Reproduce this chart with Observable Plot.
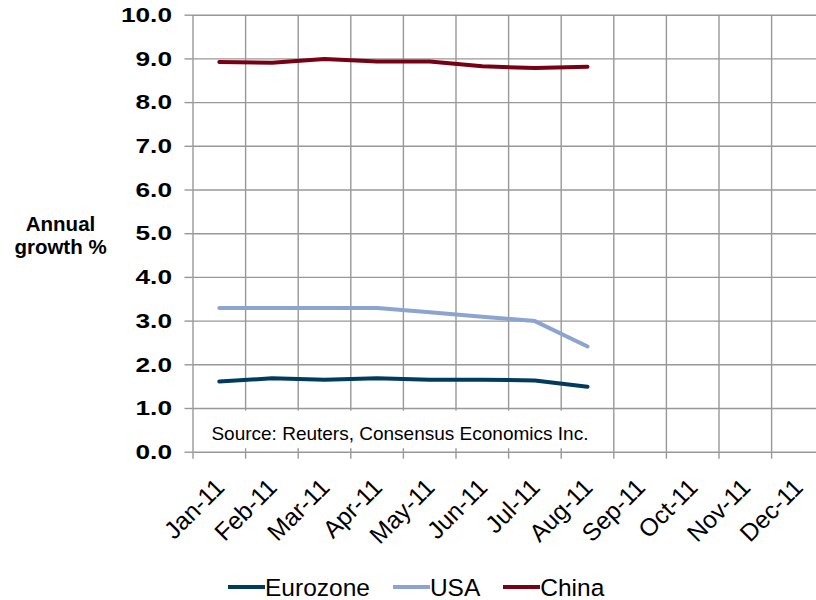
<!DOCTYPE html>
<html>
<head>
<meta charset="utf-8">
<script src="https://cdn.jsdelivr.net/npm/d3@7"></script>
<script src="https://cdn.jsdelivr.net/npm/@observablehq/plot@0.6"></script>
<style>
  body { margin: 0; background: #fff; font-family: "Liberation Sans", Arial, sans-serif; }
  #chart svg { display: block; }
  #legend { display: flex; align-items: baseline; height: 24px; padding-top: 6px; padding-left: 228px;
            font-size: 24.5px; line-height: 1; color: #000; }
  #legend .item { display: flex; align-items: baseline; margin-right: 23px; }
  #legend .swatch { display: inline-block; width: 37px; height: 4px; vertical-align: 7px; position: relative; top: -7px; }
</style>
</head>
<body>
<div id="chart"></div>
<div id="legend"></div>
<script>
// Consensus forecasts of annual GDP growth, monthly survey rounds in 2011
const months = ["Jan-11", "Feb-11", "Mar-11", "Apr-11", "May-11", "Jun-11",
                "Jul-11", "Aug-11", "Sep-11", "Oct-11", "Nov-11", "Dec-11"];
const eurozone = [1.62, 1.69, 1.66, 1.69, 1.66, 1.66, 1.64, 1.50];
const usa      = [3.30, 3.30, 3.30, 3.30, 3.20, 3.10, 3.00, 2.42];
const china    = [8.93, 8.91, 9.00, 8.94, 8.94, 8.83, 8.79, 8.82];

const seriesNames  = ["Eurozone", "USA", "China"];
const seriesValues = [eurozone, usa, china];
const seriesColors = ["#003a5d", "#8ca4cf", "#780014"];

const yTicks = [0, 1, 2, 3, 4, 5, 6, 7, 8, 9, 10];
const sourceNote = "Source: Reuters, Consensus Economics Inc.";

// Month i occupies the interval [i, i + 1]; values sit at the interval centre
const boundaries = d3.range(months.length + 1);
const centers = months.map((m, i) => i + 0.5);

const rows = seriesNames.flatMap((name, s) =>
  seriesValues[s].map((v, i) => ({series: name, month: i + 0.5, value: v})));

const gridColor = "#989898";

const chart = Plot.plot({
  width: 816,
  height: 570,
  marginLeft: 192.5,
  marginRight: 0,
  marginTop: 14.7,
  marginBottom: 118.3,
  style: {fontFamily: "'Liberation Sans', Arial, sans-serif", background: "#fff", color: "#000"},
  x: {type: "linear", domain: [0, months.length], range: [192.5, 192.5 + 52.6 * months.length]},
  y: {domain: [0, 10]},
  color: {domain: seriesNames, range: seriesColors},
  marks: [
    Plot.gridY(yTicks, {stroke: gridColor, strokeOpacity: 1, strokeWidth: 1.4}),
    Plot.gridX(boundaries, {stroke: gridColor, strokeOpacity: 1, strokeWidth: 1.4}),
    Plot.axisY(yTicks, {
      tickSize: 8, tickPadding: 13, stroke: gridColor, strokeWidth: 1.4,
      tickFormat: d => d.toFixed(1), fontSize: 21, fontWeight: "bold", fill: "#000", label: null
    }),
    Plot.axisX(boundaries, {
      tickSize: 7, stroke: gridColor, strokeWidth: 1.4, tickFormat: () => "", label: null
    }),
    Plot.axisX(centers, {
      tickSize: 0, tickPadding: 31, dx: 1, tickRotate: -45,
      tickFormat: d => months[Math.floor(d)], fontSize: 24.5, fill: "#000", label: null
    }),
    // note box in the lower part of the plot area
    Plot.rect([sourceNote], {x1: 0.25, x2: 7.95, y1: 0.08, y2: 0.94, fill: "#fff"}),
    Plot.text([sourceNote], {
      x: 0.35, y: 0.29, text: d => d, textAnchor: "start", lineAnchor: "bottom",
      fontSize: 19, fill: "#000"
    }),
    Plot.text(["Annual\ngrowth %"], {
      frameAnchor: "left", dx: -132.5, dy: 1.4, textAnchor: "middle",
      fontSize: 20.5, fontWeight: "bold", lineHeight: 1.15, fill: "#000"
    }),
    Plot.line(rows, {
      x: "month", y: "value", z: "series", stroke: "series",
      strokeWidth: 4, curve: "linear", strokeLinecap: "round", strokeLinejoin: "round"
    })
  ]
});

// widen the bold value labels on the vertical axis, keeping their right edge in place
chart.querySelectorAll('[aria-label="y-axis tick label"] text').forEach(el => {
  const x = +el.getAttribute("x") || 0;
  const y = +el.getAttribute("y") || 0;
  const t = el.getAttribute("transform") || "";
  el.setAttribute("transform", `${t} translate(${x},${y}) scale(1.25,1) translate(${-x},${-y})`);
});

document.getElementById("chart").append(chart);

const legend = document.getElementById("legend");
seriesNames.forEach((name, i) => {
  const item = document.createElement("span");
  item.className = "item";
  const sw = document.createElement("span");
  sw.className = "swatch";
  sw.style.background = seriesColors[i];
  const label = document.createElement("span");
  label.textContent = name;
  item.append(sw, label);
  legend.append(item);
});
</script>
</body>
</html>
